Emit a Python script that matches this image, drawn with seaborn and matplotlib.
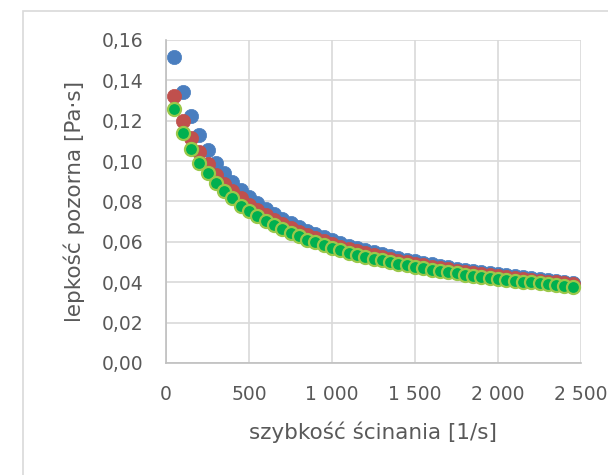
import matplotlib
matplotlib.use("Agg")
import matplotlib.pyplot as plt
import seaborn as sns
import pandas as pd
from matplotlib.patches import Rectangle
from matplotlib.ticker import FixedLocator, FixedFormatter

# ---- data ----
shear_rate = [50, 100, 150, 200, 250, 300, 350, 400, 450, 500,
              550, 600, 650, 700, 750, 800, 850, 900, 950, 1000,
              1050, 1100, 1150, 1200, 1250, 1300, 1350, 1400, 1450, 1500,
              1550, 1600, 1650, 1700, 1750, 1800, 1850, 1900, 1950, 2000,
              2050, 2100, 2150, 2200, 2250, 2300, 2350, 2400, 2450]

series_blue = [0.1515, 0.1343, 0.1223, 0.1129, 0.1054, 0.0992, 0.0942, 0.0898, 0.0857, 0.0822,
               0.0791, 0.0763, 0.0737, 0.0714, 0.0693, 0.0673, 0.0655, 0.0639, 0.0623, 0.0608,
               0.0594, 0.0582, 0.0570, 0.0559, 0.0549, 0.0539, 0.0529, 0.0520, 0.0511, 0.0503,
               0.0495, 0.0488, 0.0481, 0.0475, 0.0468, 0.0462, 0.0456, 0.0450, 0.0445, 0.0439,
               0.0434, 0.0429, 0.0424, 0.0419, 0.0415, 0.0410, 0.0406, 0.0402, 0.0397]

series_red = [0.1325, 0.1200, 0.1115, 0.1043, 0.0985, 0.0930, 0.0887, 0.0850, 0.0815, 0.0785,
              0.0756, 0.0731, 0.0708, 0.0687, 0.0668, 0.0650, 0.0633, 0.0618, 0.0603, 0.0590,
              0.0577, 0.0565, 0.0554, 0.0544, 0.0534, 0.0525, 0.0516, 0.0507, 0.0499, 0.0491,
              0.0484, 0.0477, 0.0470, 0.0464, 0.0458, 0.0452, 0.0446, 0.0440, 0.0435, 0.0430,
              0.0425, 0.0420, 0.0415, 0.0411, 0.0407, 0.0403, 0.0399, 0.0395, 0.0390]

series_green = [0.1260, 0.1140, 0.1060, 0.0990, 0.0940, 0.0890, 0.0850, 0.0815, 0.0780, 0.0754,
                0.0728, 0.0704, 0.0682, 0.0662, 0.0644, 0.0627, 0.0611, 0.0597, 0.0583, 0.0570,
                0.0558, 0.0547, 0.0536, 0.0526, 0.0517, 0.0508, 0.0499, 0.0491, 0.0483, 0.0476,
                0.0469, 0.0462, 0.0456, 0.0450, 0.0444, 0.0438, 0.0433, 0.0427, 0.0422, 0.0417,
                0.0412, 0.0408, 0.0403, 0.0399, 0.0395, 0.0391, 0.0387, 0.0383, 0.0377]

x_ticks = [0, 500, 1000, 1500, 2000, 2500]
x_tick_labels = ["0", "500", "1 000", "1 500", "2 000", "2 500"]
y_ticks = [0.00, 0.02, 0.04, 0.06, 0.08, 0.10, 0.12, 0.14, 0.16]
y_tick_labels = ["0,00", "0,02", "0,04", "0,06", "0,08", "0,10", "0,12", "0,14", "0,16"]

x_label = "szybkość ścinania [1/s]"
y_label = "lepkość pozorna [Pa·s]"

# ---- styling ----
sns.set_theme(style="white")
plt.rcParams["font.family"] = ["DejaVu Sans"]

TEXT = "#595959"
GRID = "#d9d9d9"
AXIS = "#bfbfbf"

fig = plt.figure(figsize=(6.08, 4.75), dpi=100)
fig.patch.set_facecolor("white")
# outer chart frame (cut off at right/bottom like the reference)
fig.patches.append(Rectangle((23 / 608, -0.5), 2.0, (1 - 11 / 475) + 0.5,
                             transform=fig.transFigure, fill=False,
                             edgecolor=GRID, linewidth=1.2, zorder=0))

ax = fig.add_axes([166 / 608, 1 - 363 / 475, 415 / 608, 323 / 475])
ax.set_facecolor("white")

df_blue = pd.DataFrame({"x": shear_rate, "y": series_blue})
df_red = pd.DataFrame({"x": shear_rate, "y": series_red})
df_green = pd.DataFrame({"x": shear_rate, "y": series_green})

sns.scatterplot(data=df_blue, x="x", y="y", ax=ax, color="#4a7ebf", s=105,
                edgecolor="#4a7ebf", linewidth=0.5, zorder=3)
sns.scatterplot(data=df_red, x="x", y="y", ax=ax, color="#c0504d", s=105,
                edgecolor="#c0504d", linewidth=0.5, zorder=4)
sns.scatterplot(data=df_green, x="x", y="y", ax=ax, color="#00b050", s=88,
                edgecolor="#9bc84a", linewidth=1.6, zorder=5)

ax.set_xlim(0, 2500)
ax.set_ylim(0, 0.16)
ax.xaxis.set_major_locator(FixedLocator(x_ticks))
ax.xaxis.set_major_formatter(FixedFormatter(x_tick_labels))
ax.yaxis.set_major_locator(FixedLocator(y_ticks))
ax.yaxis.set_major_formatter(FixedFormatter(y_tick_labels))

ax.grid(True, color=GRID, linewidth=1.2, zorder=0)
ax.set_axisbelow(True)
for side in ["top", "right"]:
    ax.spines[side].set_visible(False)
for side in ["left", "bottom"]:
    ax.spines[side].set_color(AXIS)
    ax.spines[side].set_linewidth(1.2)

ax.tick_params(axis="both", length=0, labelsize=13.5, labelcolor=TEXT, pad=16)

ax.set_xlabel(x_label, fontsize=15.5, color=TEXT)
ax.set_ylabel(y_label, fontsize=15.5, color=TEXT)
ax.xaxis.set_label_coords(0.499, -0.214)
ax.xaxis.label.set_va("center")
ax.yaxis.set_label_coords(-0.222, 0.5)
ax.yaxis.label.set_va("center")

fig.savefig("out.png", dpi=100)
